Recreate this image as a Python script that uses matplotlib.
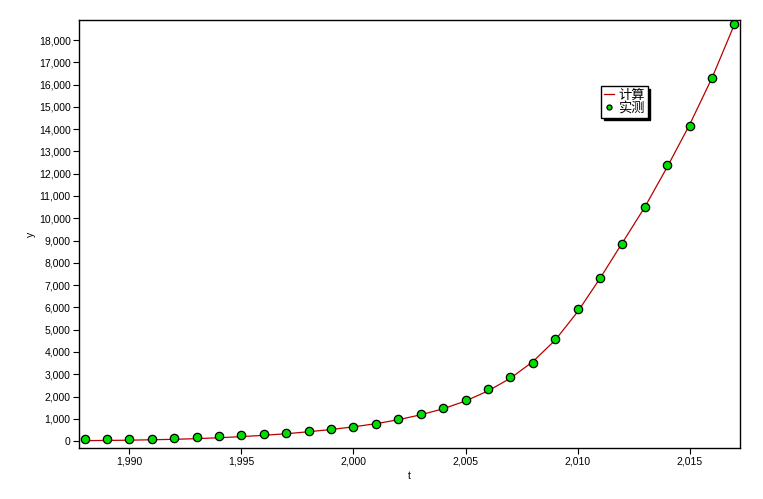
import numpy as np
import matplotlib.pyplot as plt
from matplotlib.ticker import FuncFormatter, MultipleLocator

plt.rcParams['font.family'] = ['Liberation Sans', 'Noto Sans CJK SC', 'DejaVu Sans']

# 年份
years = list(range(1988, 2018))

# 实测值
observed = [100, 90, 100, 100, 150, 180, 220, 270, 330, 380,
            460, 540, 630, 780, 990, 1220, 1480, 1840, 2330, 2870,
            3500, 4590, 5920, 7330, 8840, 10500, 12390, 14140, 16290, 18700]

# 计算值
computed = [20, 30, 40, 60, 80, 110, 150, 200, 260, 330,
            420, 520, 640, 780, 960, 1180, 1450, 1800, 2250, 2820,
            3560, 4530, 5800, 7300, 8900, 10500, 12300, 14200, 16300, 18700]

fig = plt.figure(figsize=(7.63, 4.99), dpi=100)
ax = fig.add_axes([0.1035, 0.1022, 0.8664, 0.8578])

ax.plot(years, computed, color='#b80000', lw=0.9, label='计算')
ax.plot(years, observed, ls='none', marker='o', ms=6.0, mfc='#00dd00',
        mec='black', mew=0.9, label='实测')

ax.set_xlim(1987.75, 2017.25)
ax.set_ylim(-310, 18900)
ax.xaxis.set_major_locator(MultipleLocator(5))
ax.yaxis.set_major_locator(MultipleLocator(1000))
fmt = FuncFormatter(lambda v, p: f"{int(round(v)):,}")
ax.xaxis.set_major_formatter(fmt)
ax.yaxis.set_major_formatter(fmt)
ax.tick_params(labelsize=7.5, length=4, width=0.8, direction='out', pad=2)

for s in ax.spines.values():
    s.set_linewidth(1.0)

ax.set_xlabel('t', fontsize=7.5, labelpad=3)
ax.set_ylabel('y', fontsize=7.5, labelpad=2)

leg = ax.legend(loc='upper left', bbox_to_anchor=(0.79, 0.845),
                frameon=True, fancybox=False, edgecolor='black',
                shadow={'color': 'black', 'alpha': 1},
                handlelength=0.8, handletextpad=0.3, borderpad=0.2,
                labelspacing=0.0, borderaxespad=0, markerscale=0.6,
                prop={'family': ['Noto Sans CJK SC', 'DejaVu Sans'], 'size': 9.5})
leg.get_frame().set_linewidth(1.0)

fig.savefig('out.png', dpi=100)
